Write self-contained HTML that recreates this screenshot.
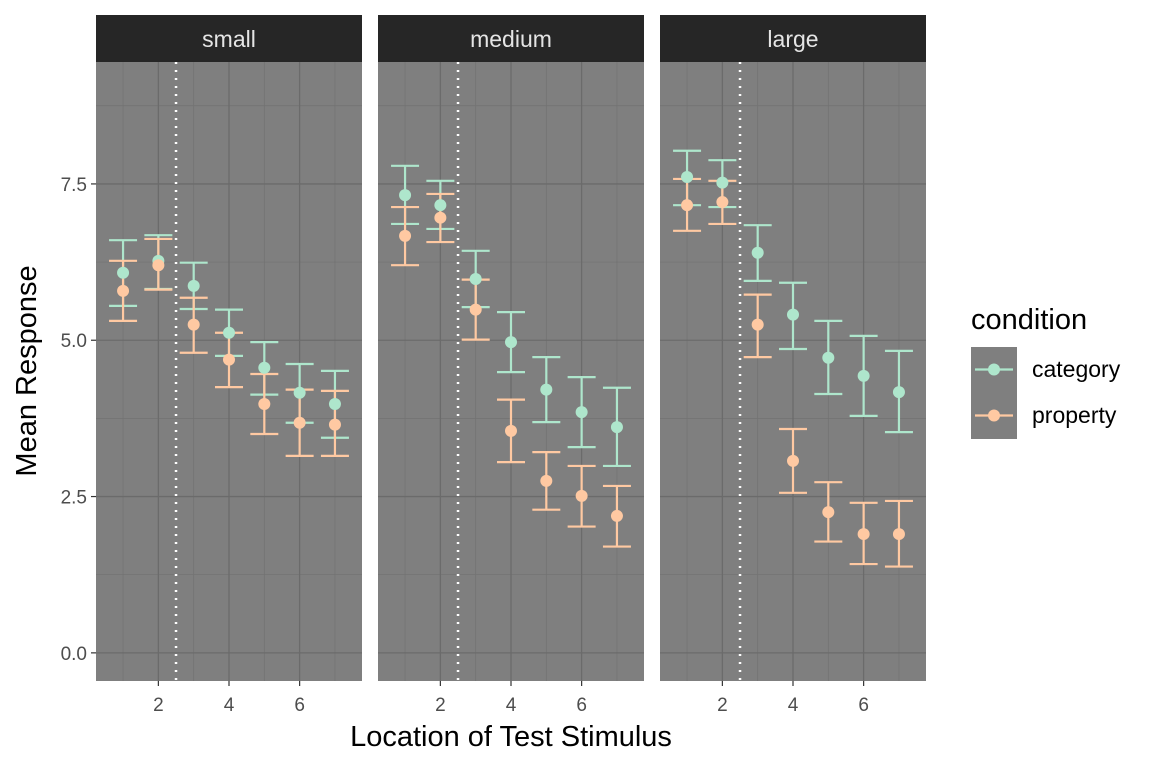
<!DOCTYPE html>
<html><head><meta charset="utf-8"><style>
body{margin:0;background:#fff;font-family:"Liberation Sans",sans-serif}
</style></head><body>
<svg id="chart" width="1152" height="768" xmlns="http://www.w3.org/2000/svg" font-family="Liberation Sans, sans-serif"></svg>
<script>
const panels=["small","medium","large"];
const xs=[1,2,3,4,5,6,7];
const catMean=[[6.08,6.27,5.87,5.12,4.56,4.16,3.98],[7.32,7.16,5.98,4.97,4.21,3.85,3.61],[7.61,7.52,6.40,5.41,4.72,4.43,4.17]];
const catHi=[[6.60,6.68,6.24,5.49,4.97,4.62,4.51],[7.79,7.55,6.43,5.45,4.73,4.41,4.24],[8.03,7.88,6.84,5.92,5.31,5.07,4.83]];
const catLo=[[5.55,5.82,5.50,4.75,4.13,3.68,3.44],[6.86,6.78,5.53,4.49,3.69,3.29,2.99],[7.16,7.13,5.95,4.86,4.14,3.79,3.53]];
const propMean=[[5.79,6.20,5.25,4.69,3.98,3.68,3.65],[6.67,6.96,5.49,3.55,2.75,2.51,2.19],[7.16,7.21,5.25,3.07,2.25,1.90,1.90]];
const propHi=[[6.27,6.62,5.68,5.12,4.46,4.21,4.19],[7.13,7.34,5.97,4.05,3.21,2.99,2.67],[7.58,7.55,5.73,3.58,2.73,2.40,2.43]];
const propLo=[[5.31,5.81,4.80,4.25,3.50,3.15,3.15],[6.20,6.57,5.01,3.05,2.29,2.02,1.70],[6.75,6.86,4.73,2.56,1.78,1.42,1.38]];
const yTicks=[0,2.5,5,7.5];const yTickLabels=["0.0","2.5","5.0","7.5"];
const yMinor=[1.25,3.75,6.25,8.75];
const xTicks=[2,4,6];const xMinor=[1,3,5,7];
const cut=2.5;
const CAT="#aee6cc",PROP="#ffc9a2";
const svg=document.getElementById('chart');const NS="http://www.w3.org/2000/svg";
function el(t,a,p){const e=document.createElementNS(NS,t);for(const k in a)e.setAttribute(k,a[k]);(p||svg).appendChild(e);return e;}
const pLeft=[96,378,660],pW=266,pTop=62,pBot=681;
const xMin=0.234,xMax=7.766,yMin=-0.45,yMax=9.45;
function Y(v){return pBot-(v-yMin)/(yMax-yMin)*(pBot-pTop);}
panels.forEach((name,p)=>{
 const X=v=>pLeft[p]+(v-xMin)/(xMax-xMin)*pW;
 const g=el('g',{});
 
 
 el('rect',{x:pLeft[p],y:pTop,width:pW,height:pBot-pTop,fill:'#7f7f7f'},g);
 yMinor.forEach(v=>el('line',{x1:pLeft[p],x2:pLeft[p]+pW,y1:Y(v),y2:Y(v),stroke:'#727272','stroke-width':0.7},g));
 xMinor.forEach(v=>el('line',{x1:X(v),x2:X(v),y1:pTop,y2:pBot,stroke:'#727272','stroke-width':0.7},g));
 yTicks.forEach(v=>el('line',{x1:pLeft[p],x2:pLeft[p]+pW,y1:Y(v),y2:Y(v),stroke:'#6b6b6b','stroke-width':1.3},g));
 xTicks.forEach(v=>el('line',{x1:X(v),x2:X(v),y1:pTop,y2:pBot,stroke:'#6b6b6b','stroke-width':1.3},g));
 const strip=el('rect',{x:pLeft[p],y:15,width:pW,height:47,fill:'#262626'});
 
 const st=el('text',{x:pLeft[p]+pW/2,y:47,'text-anchor':'middle','font-size':23,fill:'#e5e5e5'});st.textContent=name;
 
 el('line',{x1:X(cut),x2:X(cut),y1:pTop,y2:pBot,stroke:'#fff','stroke-width':2.5,'stroke-dasharray':'2,6'},g);
 [[catMean,catHi,catLo,CAT,'category'],[propMean,propHi,propLo,PROP,'property']].forEach(([m,h,l,c,n])=>{
  xs.forEach((x,i)=>{
   const eb=el('path',{d:`M${X(x)-14},${Y(h[p][i])}H${X(x)+14}M${X(x)},${Y(h[p][i])}V${Y(l[p][i])}M${X(x)-14},${Y(l[p][i])}H${X(x)+14}`,stroke:c,'stroke-width':2.2,fill:'none'},g);
   
  });
 });
 [[catMean,CAT,'category'],[propMean,PROP,'property']].forEach(([m,c,n])=>{
  xs.forEach((x,i)=>{const pt=el('circle',{cx:X(x),cy:Y(m[p][i]),r:6,fill:c},g);
   });
 });
 xTicks.forEach(v=>{el('line',{x1:X(v),x2:X(v),y1:pBot,y2:pBot+5,stroke:'#333','stroke-width':1.2});
  const t=el('text',{x:X(v),y:711,'text-anchor':'middle','font-size':19,fill:'#4d4d4d'});t.textContent=v;
  });
});
yTicks.forEach((v,i)=>{el('line',{x1:91,x2:96,y1:Y(v),y2:Y(v),stroke:'#333','stroke-width':1.2});
 const t=el('text',{x:87,y:Y(v)+7,'text-anchor':'end','font-size':19,fill:'#4d4d4d'});t.textContent=yTickLabels[i];
 });
let t=el('text',{x:511,y:746,'text-anchor':'middle','font-size':29,fill:'#000'});t.textContent='Location of Test Stimulus';

t=el('text',{x:0,y:0,'text-anchor':'middle','font-size':29,fill:'#000',transform:'translate(36,371) rotate(-90)'});t.textContent='Mean Response';

t=el('text',{x:971,y:329,'font-size':29,fill:'#000'});t.textContent='condition';

[['category',CAT,347],['property',PROP,393]].forEach(([n,c,y])=>{
 const g=el('g',{});
 el('rect',{x:971,y:y,width:46,height:46,fill:'#7f7f7f'},g);
 el('line',{x1:975,x2:1013,y1:y+22.5,y2:y+22.5,stroke:c,'stroke-width':2.2},g);
 el('circle',{cx:994,cy:y+22.5,r:6,fill:c},g);
 const tt=el('text',{x:1032,y:y+30,'font-size':23,fill:'#000'},g);tt.textContent=n;
});
</script>
</body></html>
